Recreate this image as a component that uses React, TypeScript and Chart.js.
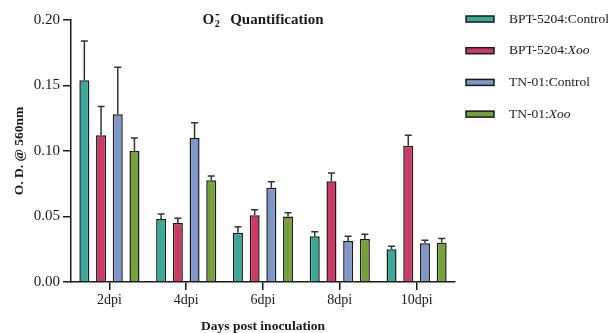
import React, { useEffect, useRef } from "react";
import { Chart, registerables } from "chart.js";

Chart.register(...registerables);

const categories = ["2dpi", "4dpi", "6dpi", "8dpi", "10dpi"];
const seriesNames = ["BPT-5204:Control", "BPT-5204:Xoo", "TN-01:Control", "TN-01:Xoo"];
const bptControl = [0.154, 0.048, 0.0376, 0.035, 0.025];
const bptXoo = [0.112, 0.045, 0.051, 0.077, 0.104];
const tnControl = [0.128, 0.110, 0.072, 0.0313, 0.0295];
const tnXoo = [0.100, 0.0776, 0.050, 0.0328, 0.030];
const bptControlErr = [0.030, 0.004, 0.0045, 0.0034, 0.0022];
const bptXooErr = [0.022, 0.0036, 0.0042, 0.0062, 0.008];
const tnControlErr = [0.036, 0.0116, 0.0046, 0.0036, 0.0023];
const tnXooErr = [0.010, 0.0034, 0.0029, 0.0036, 0.0033];
const yTicks = [0, 0.05, 0.1, 0.15, 0.2];

const colors = ["#3aa99a", "#cc3a64", "#7f97c9", "#76a13a"];
const FONT = "'Liberation Serif', 'Times New Roman', serif";
const INK = "#1a1a1a";

const errorBarPlugin = {
  id: "errorBars",
  afterDatasetsDraw(chart: any) {
    const ctx = chart.ctx;
    const y = chart.scales.y;
    ctx.save();
    ctx.strokeStyle = "#333";
    ctx.lineWidth = 1.5;
    chart.data.datasets.forEach((ds: any, di: number) => {
      const meta = chart.getDatasetMeta(di);
      meta.data.forEach((bar: any, i: number) => {
        const v = ds.data[i];
        const e = ds.errors[i];
        const yTop = y.getPixelForValue(v + e);
        ctx.beginPath();
        ctx.moveTo(bar.x, bar.y);
        ctx.lineTo(bar.x, yTop);
        ctx.moveTo(bar.x - 3.5, yTop);
        ctx.lineTo(bar.x + 3.5, yTop);
        ctx.stroke();
      });
    });
    ctx.restore();
  },
};

const titlePlugin = {
  id: "customTitle",
  afterDraw(chart: any) {
    const ctx = chart.ctx;
    const area = chart.chartArea;
    const cx = (area.left + area.right) / 2;
    const cy = 20;
    ctx.save();
    ctx.fillStyle = INK;
    ctx.textBaseline = "middle";
    const big = `bold 15px ${FONT}`;
    const small = `bold 10px ${FONT}`;
    ctx.font = big;
    const wO = ctx.measureText("O").width;
    const wQ = ctx.measureText("Quantification").width;
    ctx.font = small;
    const w2 = ctx.measureText("2").width;
    const gap = 11;
    const total = wO + w2 + gap + wQ;
    let x = cx - total / 2;
    ctx.textAlign = "left";
    ctx.font = big;
    ctx.fillText("O", x, cy);
    x += wO;
    ctx.font = small;
    ctx.fillText("2", x + 0.5, cy + 4);
    ctx.fillRect(x + 1.5, cy - 6, 3.5, 1.3);
    x += w2 + gap;
    ctx.font = big;
    ctx.fillText("Quantification", x, cy);
    ctx.restore();
  },
};

const legendPlugin = {
  id: "customLegend",
  afterDraw(chart: any) {
    const ctx = chart.ctx;
    ctx.save();
    ctx.textBaseline = "middle";
    ctx.textAlign = "left";
    chart.data.datasets.forEach((ds: any, i: number) => {
      const cy = 19 + i * 31.7;
      ctx.fillStyle = ds.backgroundColor;
      ctx.strokeStyle = INK;
      ctx.lineWidth = 1.5;
      ctx.fillRect(466, cy - 3, 28, 6);
      ctx.strokeRect(466, cy - 3, 28, 6);
      ctx.fillStyle = INK;
      const label: string = ds.label;
      const idx = label.indexOf(":");
      const pre = label.slice(0, idx + 1);
      const post = label.slice(idx + 1);
      ctx.font = `13.5px ${FONT}`;
      ctx.fillText(pre, 509, cy);
      const w = ctx.measureText(pre).width;
      ctx.font = post === "Xoo" ? `italic 13.5px ${FONT}` : `13.5px ${FONT}`;
      ctx.fillText(post, 509 + w, cy);
    });
    ctx.restore();
  },
};

export default function App() {
  const ref = useRef<HTMLCanvasElement>(null);
  useEffect(() => {
    document.body.style.margin = "0";
    const values = [bptControl, bptXoo, tnControl, tnXoo];
    const errs = [bptControlErr, bptXooErr, tnControlErr, tnXooErr];
    const chart = new Chart(ref.current!, {
      type: "bar",
      data: {
        labels: categories,
        datasets: seriesNames.map((name, i) => ({
          label: name,
          data: values[i],
          errors: errs[i],
          backgroundColor: colors[i],
          borderColor: INK,
          borderWidth: 1.5,
          categoryPercentage: 0.87,
          barPercentage: 0.6,
        })) as any,
      },
      options: {
        animation: false,
        responsive: false,
        layout: { padding: { left: 0, right: 153, top: 20, bottom: 0 } },
        plugins: {
          legend: { display: false },
          title: { display: false },
          tooltip: { enabled: false },
        },
        scales: {
          x: {
            afterFit: (s: any) => { s.height = 51; },
            grid: { offset: false, drawOnChartArea: false, tickLength: 8, color: INK, lineWidth: 1.5 },
            border: { color: INK, width: 1.5 },
            ticks: { color: INK, font: { family: FONT, size: 14 }, padding: 2 },
            title: {
              display: true,
              text: "Days post inoculation",
              color: INK,
              font: { family: FONT, size: 13.5, weight: "bold", lineHeight: 1.0 },
              padding: { top: 0, bottom: 0 },
            },
          },
          y: {
            min: 0,
            max: 0.2,
            afterFit: (s: any) => { s.width = 71; },
            afterBuildTicks: (s: any) => { s.ticks = yTicks.map((v) => ({ value: v })); },
            grid: { drawOnChartArea: false, tickLength: 8, color: INK, lineWidth: 1.5 },
            border: { color: INK, width: 1.5 },
            ticks: {
              color: INK,
              font: { family: FONT, size: 15 },
              padding: 3,
              callback: (v: any) => Number(v).toFixed(2),
            },
            title: {
              display: true,
              text: "O. D. @ 560nm",
              color: INK,
              font: { family: FONT, size: 13.5, weight: "bold" },
              padding: { top: 11, bottom: 0 },
            },
          },
        },
      } as any,
      plugins: [errorBarPlugin, titlePlugin, legendPlugin],
    });
    return () => chart.destroy();
  }, []);
  return (
    <div style={{ position: "relative", width: 608, height: 333 }}>
      <canvas ref={ref} width={608} height={333} style={{ width: 608, height: 333 }} />
    </div>
  );
}
